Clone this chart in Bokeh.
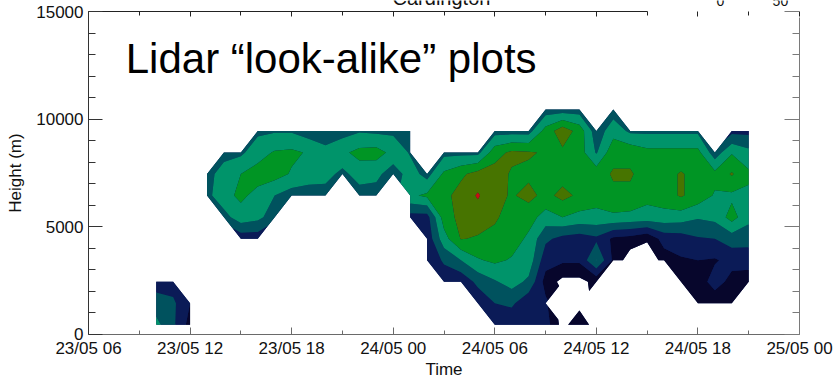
import numpy as np
from bokeh.plotting import figure
from bokeh.models import Range1d, LinearAxis, FixedTicker, Label
from bokeh.embed import file_html
from bokeh.resources import INLINE

N = None  # no data (masked)

# grid: hours since 23/05 00:00 and heights (m)
hours = list(range(10, 46))
heights = [450, 1450, 2450, 3450, 4450, 5450, 6450, 7450, 8450, 9450, 10450]

#           h10 h11 h12 h13 h14 h15 h16 h17 h18 h19 h20 h21 h22 h23 h24 h25 h26 h27 h28  h29 h30 h31 h32 h33 h34 h35 h36   h37 h38 h39  h40 h41 h42 h43 h44 h45
z_00450 = [33, 22, 6,  N,  N,  N,  N,  N,  N,  N,  N,  N,  N,  N,  N,  N,  N,  N,  N,    N,  12, 12, 12, 15, -4, 8,  -6,   N,  N,  N,   N,  N,  N,  N,  N,  N]
z_01450 = [25, 22, 10, N,  N,  N,  N,  N,  N,  N,  N,  N,  N,  N,  N,  N,  N,  N,  N,    12, 20, 22, 12, 12, N,  -4, N,    N,  N,  N,   N,  N,  3,  4,  5,  N]
z_02450 = [15, 15, N,  N,  N,  N,  N,  N,  N,  N,  N,  N,  N,  N,  N,  N,  N,  12, 12,   23, 29, 34, 28, 6,  -3, -3, 3,    N,  N,  N,   N,  3,  5,  14, 7,  5]
z_03450 = [N,  N,  N,  N,  N,  N,  N,  N,  N,  N,  N,  N,  N,  N,  N,  N,  10, 22, 30,   39, 42, 39, 36, 14, 12, 12, 30.5, 8,  -6, -10, 5,  9,  10, 9,  13, 14]
z_04450 = [N,  N,  N,  N,  N,  14, 14, N,  N,  N,  N,  N,  N,  N,  N,  N,  13, 36, 50.5, 49, 48, 45, 38, 22, 17, 15, 18,   8,  6,  2,   14, 15, 19, 20, 25, 24]
z_05450 = [N,  N,  N,  N,  26, 36, 33, 24, N,  N,  N,  N,  N,  N,  N,  16, 16, 45, 53,   55, 51, 47, 44, 36, 40, 37, 37,   38, 37, 36,  36, 35, 31, 33, 44, 33]
z_06450 = [N,  N,  N,  27, 37, 42, 37, 30, 25, 25, 25, N,  25, 25, N,  38, 42, 47, 54,   61, 53, 49, 53, 47, 53, 48, 44,   48, 48, 43,  46, 51, 46, 39, 38, 38]
z_07450 = [N,  N,  N,  26, 35, 40, 44, 44, 39, 35, 34, 27, 35, 33, 24, 35, 26, 42, 48,   54, 54, 49, 48, 47, 46, 46, 46,   51, 51, 46,  46, 51, 46, 43, 51, 42]
z_08450 = [N,  N,  N,  N,  26, 28, 36, 41, 42, 39, 33, 38, 43, 44, 37, 29, N,  27, 27,   27, 46, 52, 51, 49, 48, 45, 29,   47, 47, 43,  43, 43, 43, 24, 39, 33]
z_09450 = [N,  N,  N,  N,  N,  N,  28, 29, 29, 25, 24, 26, 29, 28, 28, 26, N,  N,  N,    N,  26, 26, 26, 44, 56, 46, 24,   36, 28, 28,  28, 28, 28, N,  17, 17]
z_10450 = [N,  N,  N,  N,  N,  N,  N,  N,  N,  N,  N,  N,  N,  N,  N,  N,  N,  N,  N,    N,  N,  N,  N,  25, 25, 25, N,    25, N,  N,   N,  N,  N,  N,  N,  N]

rows = [z_00450, z_01450, z_02450, z_03450, z_04450, z_05450,
        z_06450, z_07450, z_08450, z_09450, z_10450]
z = np.array([[np.nan if v is None else v for v in r] for r in rows], dtype=float)

levels = [0, 10, 20, 30, 40, 50, 60, 70]
band_colors = ["#07062c", "#0b1b57", "#00525e", "#00946a", "#009524", "#477400", "#c81010"]
edge_color = "#0b1b57"

x_ticks = [6, 12, 18, 24, 30, 36, 42, 48]
x_tick_labels = ["23/05 06", "23/05 12", "23/05 18", "24/05 00",
                 "24/05 06", "24/05 12", "24/05 18", "25/05 00"]
x_minor = [9, 15, 21, 27, 33, 39, 45]
y_ticks = [0, 5000, 10000, 15000]
y_tick_labels = ["0", "5000", "10000", "15000"]
y_minor = [1000, 2000, 3000, 4000, 6000, 7000, 8000, 9000,
           11000, 12000, 13000, 14000]

FONT = "Liberation Sans"

# the frame fills the whole canvas; the axes are drawn at fixed data
# locations: 6h..48h spans x 88..799 px, 0..15000 m spans y 334..11 px
p = figure(width=833, height=377, x_range=Range1d(0.802, 50.008), y_range=Range1d(-1997, 15511),
           output_backend="svg", toolbar_location=None,
           min_border_left=0, min_border_right=0, min_border_top=0, min_border_bottom=0)
p.outline_line_color = None
p.grid.visible = False
p.background_fill_color = "white"
p.border_fill_color = "white"

# outline of the whole data region
outline = p.contour(hours, heights, z, levels=[0, 70], fill_color=edge_color)
outline.fill_renderer.glyph.line_color = edge_color
outline.fill_renderer.glyph.line_width = 2

bands = p.contour(hours, heights, z, levels=levels, fill_color=band_colors)
try:
    g = bands.fill_renderer.glyph
    g.line_color = g.fill_color
    g.line_width = 0.6
except Exception:
    pass

# bottom axis at 0 m
xa = p.xaxis[0]
xa.fixed_location = 0
xa.bounds = (6, 48)
xa.ticker = FixedTicker(ticks=x_ticks, minor_ticks=x_minor)
xa.major_label_overrides = {t: l for t, l in zip(x_ticks, x_tick_labels)}
xa.major_tick_in = 7
xa.major_tick_out = 0
xa.minor_tick_in = 4
xa.minor_tick_out = 0
xa.axis_line_color = "#6a6a6a"
xa.major_tick_line_color = "#6a6a6a"
xa.minor_tick_line_color = "#6a6a6a"
xa.major_label_standoff = 5
xa.major_label_text_font = FONT
xa.major_label_text_font_size = "17px"
xa.major_label_text_color = "#111111"
xa.axis_label = "Time"
xa.axis_label_text_font = FONT
xa.axis_label_text_font_size = "17px"
xa.axis_label_text_font_style = "normal"
xa.axis_label_text_color = "#111111"
xa.axis_label_standoff = -2

# left axis at 6 h
ya = p.yaxis[0]
ya.fixed_location = 6
ya.ticker = FixedTicker(ticks=y_ticks, minor_ticks=y_minor)
ya.major_label_overrides = {t: l for t, l in zip(y_ticks, y_tick_labels)}
ya.bounds = (0, 15000)
ya.major_tick_in = 14
ya.major_tick_out = 0
ya.minor_tick_in = 7
ya.minor_tick_out = 0
ya.axis_line_color = "#333333"
ya.major_tick_line_color = "#333333"
ya.minor_tick_line_color = "#333333"
ya.major_label_standoff = 5
ya.major_label_text_font = FONT
ya.major_label_text_font_size = "17px"
ya.major_label_text_color = "#111111"
ya.axis_label = "Height (m)"
ya.axis_label_text_font = FONT
ya.axis_label_text_font_size = "17px"
ya.axis_label_text_font_style = "normal"
ya.axis_label_text_color = "#111111"
ya.axis_label_standoff = 8

# right axis at 48 h (starts just below the colour bar area)
ra = LinearAxis(ticker=FixedTicker(ticks=y_ticks, minor_ticks=y_minor), bounds=(0, 14720),
                fixed_location=48)
ra.major_label_overrides = {t: "" for t in y_ticks}
ra.major_label_text_font_size = "0px"
ra.major_label_standoff = 0
ra.major_tick_in = 15
ra.major_tick_out = 0
ra.minor_tick_in = 7
ra.minor_tick_out = 0
ra.axis_line_color = "#7a7a7a"
ra.major_tick_line_color = "#7a7a7a"
ra.minor_tick_line_color = "#7a7a7a"
p.add_layout(ra, "right")

# top axis drawn at 15000 m, cut where the colour bar sits
ta = LinearAxis(ticker=FixedTicker(ticks=x_ticks, minor_ticks=x_minor), bounds=(6, 39),
                fixed_location=15000)
ta.major_label_overrides = {t: "" for t in x_ticks}
ta.major_label_text_font_size = "0px"
ta.major_label_standoff = 0
ta.major_tick_in = 5
ta.major_tick_out = 0
ta.minor_tick_in = 4
ta.minor_tick_out = 0
ta.axis_line_color = "#222222"
ta.major_tick_line_color = "#222222"
ta.minor_tick_line_color = "#222222"
p.add_layout(ta, "above")

p.add_layout(Label(x=8.2, y=12804, text="Lidar \u201clook-alike\u201d plots",
                   text_align="left", text_baseline="alphabetic",
                   text_font=FONT, text_font_size="42px", text_color="#000000"))
p.add_layout(Label(x=23.96, y=15627, text="Cardington", text_align="left",
                   text_baseline="alphabetic", text_font=FONT,
                   text_font_size="20px", text_color="#111111"))
p.add_layout(Label(x=43.33, y=15511, text="0", text_align="center",
                   text_baseline="alphabetic", text_font=FONT,
                   text_font_size="14px", text_color="#111111"))
p.add_layout(Label(x=46.87, y=15511, text="50", text_align="center",
                   text_baseline="alphabetic", text_font=FONT,
                   text_font_size="14px", text_color="#111111"))

open("out.html", "w").write(file_html(p, INLINE))
